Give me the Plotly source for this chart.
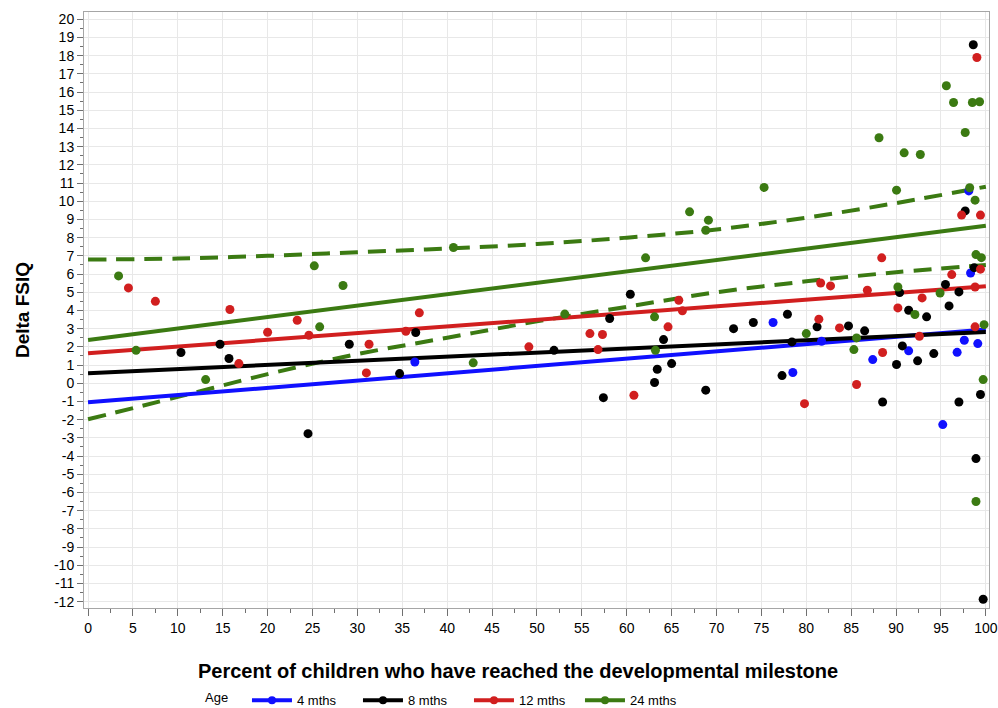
import plotly.graph_objects as go

# ---------------- data ----------------
ages = ["4 mths", "8 mths", "12 mths", "24 mths"]
colors = ["#1010ff", "#000000", "#d11f1f", "#3b7a12"]

x_4m = [36.4, 76.3, 78.5, 81.7, 87.4, 91.4, 95.2, 96.8, 97.6, 98.1, 98.3, 99.1]
y_4m = [1.17, 3.34, 0.59, 2.31, 1.3, 1.78, -2.27, 1.7, 2.36, 10.57, 6.06, 2.18]

x_8m = [10.35, 14.7, 15.7, 24.5, 29.1, 34.7, 36.5, 51.9, 57.4, 58.1, 60.4, 63.1, 63.4, 64.1,
        65.0, 68.8, 71.9, 74.1, 77.3, 77.9, 78.4, 81.2, 84.7, 86.5, 88.5, 90.05, 90.4, 90.7,
        91.4, 92.4, 93.4, 94.2, 95.5, 95.9, 97.0, 97.0, 97.7, 98.6, 98.7, 98.9, 99.4, 99.7]
y_8m = [1.69, 2.14, 1.36, -2.77, 2.14, 0.53, 2.79, 1.81, -0.79, 3.56, 4.89, 0.04, 0.77, 2.4,
        1.08, -0.38, 3.0, 3.34, 0.42, 3.79, 2.27, 3.1, 3.15, 2.88, -1.03, 1.03, 4.98, 2.05,
        4.01, 1.23, 3.65, 1.63, 5.43, 4.25, 5.02, -1.03, 9.47, 18.6, 6.35, -4.14, -0.62, -11.87]

x_12m = [4.5, 7.5, 15.8, 16.8, 20.0, 23.3, 24.6, 31.0, 31.3, 35.4, 36.9, 49.1, 55.9, 56.8,
         57.3, 60.8, 64.6, 65.8, 66.2, 79.8, 81.4, 81.6, 82.7, 83.7, 85.6, 86.8, 88.4, 88.5,
         90.2, 92.6, 92.9, 96.2, 97.3, 98.8, 98.8, 99.0, 99.4, 99.4]
y_12m = [5.24, 4.5, 4.05, 1.08, 2.8, 3.46, 2.64, 0.57, 2.14, 2.86, 3.87, 2.0, 2.73, 1.85,
         2.68, -0.66, 3.1, 4.56, 3.98, -1.12, 3.52, 5.51, 5.35, 3.04, -0.07, 5.11, 6.89, 1.69,
         4.14, 2.58, 4.69, 5.97, 9.24, 5.29, 3.1, 17.9, 9.24, 6.27]

x_24m = [3.4, 5.35, 13.1, 25.2, 25.8, 28.4, 40.7, 42.9, 53.1, 62.1, 63.1, 63.2, 67.0, 68.8,
         69.1, 75.3, 80.0, 85.3, 85.6, 88.1, 90.05, 90.2, 90.9, 92.1, 92.7, 94.9, 95.6, 96.4,
         97.7, 98.2, 98.5, 98.8, 98.9, 98.9, 99.3, 99.5, 99.7, 99.8]
y_24m = [5.9, 1.81, 0.2, 6.45, 3.1, 5.37, 7.46, 1.12, 3.8, 6.89, 3.65, 1.81, 9.42, 8.41,
         8.96, 10.76, 2.73, 1.85, 2.49, 13.49, 10.61, 5.29, 12.66, 3.78, 12.57, 4.96, 16.35, 15.43,
         13.78, 10.74, 15.43, 10.06, 7.07, -6.5, 15.47, 6.9, 0.2, 3.22]

# fitted regression lines (end points)
fit_x = [0, 100]
fit_4m = [-1.05, 2.95]
fit_8m = [0.55, 2.82]
fit_12m = [1.65, 5.33]
fit_24m = [2.38, 8.65]

# confidence band for 24 mths
band_x = [0, 10, 20, 30, 40, 50, 60, 70, 80, 90, 100]
band_upper = [6.8, 6.85, 7.0, 7.2, 7.4, 7.65, 8.0, 8.45, 9.1, 9.9, 10.8]
band_lower = [-1.98, -0.75, 0.5, 1.6, 2.5, 3.4, 4.2, 5.0, 5.6, 6.1, 6.5]

x_ticks = list(range(0, 101, 5))
y_ticks = list(range(-12, 21, 1))

# ---------------- figure ----------------
fig = go.Figure()

xs = [x_4m, x_8m, x_12m, x_24m]
ys = [y_4m, y_8m, y_12m, y_24m]
fits = [fit_4m, fit_8m, fit_12m, fit_24m]

for yb in (band_upper, band_lower):
    fig.add_trace(go.Scatter(x=band_x, y=yb, mode="lines", line_shape="spline",
                             line=dict(color=colors[3], width=4, dash="18px,10px"),
                             showlegend=False, hoverinfo="skip"))

for i in range(4):
    fig.add_trace(go.Scatter(x=fit_x, y=fits[i], mode="lines",
                             line=dict(color=colors[i], width=4),
                             showlegend=False, hoverinfo="skip"))

for i in range(4):
    fig.add_trace(go.Scatter(x=xs[i], y=ys[i], mode="markers",
                             marker=dict(color=colors[i], size=9),
                             showlegend=False))

for i in range(4):
    fig.add_trace(go.Scatter(x=[None], y=[None], mode="lines+markers", name=ages[i],
                             line=dict(color=colors[i], width=4),
                             marker=dict(color=colors[i], size=8)))

font_family = "Liberation Sans, Arial, sans-serif"
fig.update_layout(
    width=998, height=708,
    margin=dict(l=84, r=9, t=12, b=100, autoexpand=False),
    paper_bgcolor="white", plot_bgcolor="white",
    font=dict(family=font_family, color="#000000", size=14),
    showlegend=True,
    legend=dict(orientation="h", x=0.1315, y=-0.155, xanchor="left", yanchor="middle",
                title=dict(text="Age   ", font=dict(size=13)),
                font=dict(size=13), entrywidth=56, itemwidth=40),
    annotations=[dict(text="<b>Percent of children who have reached the developmental milestone</b>",
                      x=0.4796, y=-0.106, xref="paper", yref="paper",
                      xanchor="center", yanchor="middle", showarrow=False,
                      font=dict(size=20))],
)
fig.update_xaxes(
    range=[-0.45, 100.35], tickvals=x_ticks, ticktext=[str(v) for v in x_ticks],
    showgrid=True, gridcolor="#e8e8e8", gridwidth=1,
    showline=True, linecolor="#a6a6a6", linewidth=1, mirror=True,
    ticks="outside", ticklen=7, tickcolor="#707070",
    minor=dict(dtick=2.5, tick0=0, ticks="outside", ticklen=4, tickcolor="#707070", showgrid=False),
    zeroline=False, tickfont=dict(size=14),
    automargin=False,
)
fig.update_yaxes(
    range=[-12.35, 20.4], tickvals=y_ticks, ticktext=[str(v) for v in y_ticks],
    showgrid=True, gridcolor="#e8e8e8", gridwidth=1,
    showline=True, linecolor="#a6a6a6", linewidth=1, mirror=True,
    ticks="outside", ticklen=6, tickcolor="#707070",
    minor=dict(dtick=0.5, tick0=0, ticks="outside", ticklen=3, tickcolor="#707070", showgrid=False),
    zeroline=False, tickfont=dict(size=14),
    title=dict(text="<b>Delta FSIQ</b>", font=dict(size=19), standoff=19),
    automargin=False,
)

fig.write_html("out.html", config={"displayModeBar": False},
               post_script="document.body.style.margin='0';document.body.style.padding='0';")
